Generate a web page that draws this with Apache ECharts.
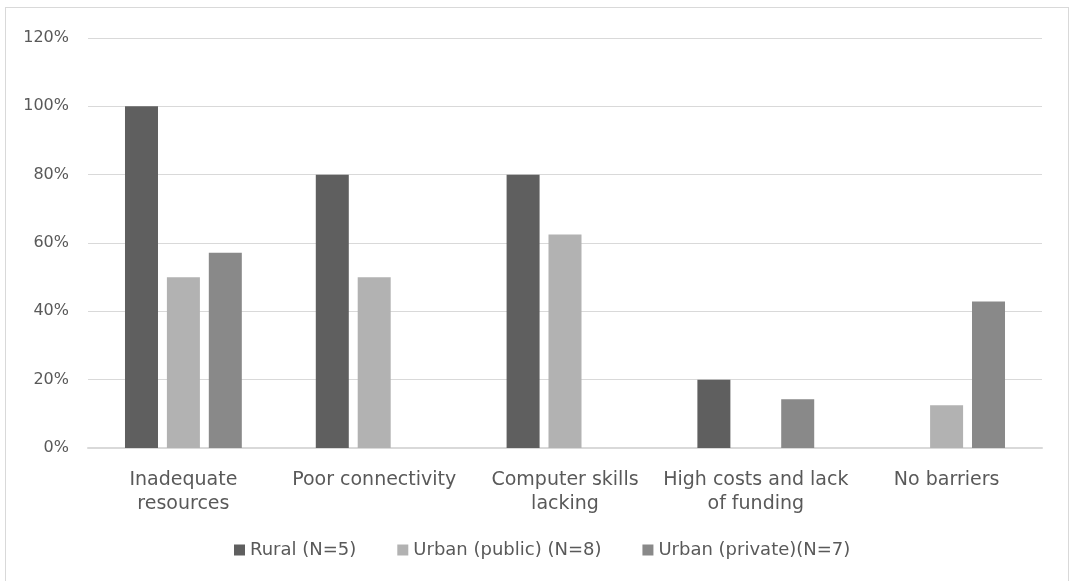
<!DOCTYPE html>
<html>
<head>
<meta charset="utf-8">
<script src="https://cdn.jsdelivr.net/npm/echarts@6/dist/echarts.min.js"></script>
<style>
  body { margin: 0; background: #fff; }
  #frame {
    position: absolute; left: 5px; top: 7px;
    width: 1064px; height: 600px;
    border: 1px solid #d9d9d9; box-sizing: border-box;
  }
  #chart { position: absolute; left: 0; top: 0; width: 1071px; height: 581px; }
</style>
</head>
<body>
<div id="frame"></div>
<div id="chart"></div>
<script>
// categories / series
const categories = ['Inadequate\nresources', 'Poor connectivity', 'Computer skills\nlacking', 'High costs and lack\nof funding', 'No barriers']
const rural = [100, 80, 80, 20, 0]
const urbanPublic = [50, 50, 62.5, 0, 12.5]
const urbanPrivate = [57.14, 0, 0, 14.29, 42.86]
const seriesNames = ['Rural (N=5)', 'Urban (public) (N=8)', 'Urban (private)(N=7)']
const colors = ['#5f5f5f', '#b2b2b2', '#898989']

const font = 'DejaVu Sans'
const chart = echarts.init(document.getElementById('chart'))

function bar(name, data, color) {
  return {
    name,
    type: 'bar',
    data,
    barWidth: 33,
    barGap: '27%',
    itemStyle: { color },
    animation: false
  }
}

chart.setOption({
  animation: false,
  textStyle: { fontFamily: font },
  grid: { left: 88, right: 29, top: 38, bottom: 133 },
  legend: {
    bottom: 22,
    left: 234,
    icon: 'rect',
    itemWidth: 11,
    itemHeight: 11,
    itemGap: 41,
    padding: 0,
    textStyle: { color: '#595959', fontSize: 18, fontFamily: font },
    data: seriesNames
  },
  xAxis: {
    type: 'category',
    data: categories,
    axisLine: { lineStyle: { color: '#d9d9d9', width: 2 } },
    axisTick: { show: false },
    axisLabel: { color: '#595959', fontSize: 19, fontFamily: font, lineHeight: 24, margin: 20, interval: 0 }
  },
  yAxis: {
    type: 'value',
    min: 0,
    max: 120,
    interval: 20,
    axisLine: { show: false },
    axisTick: { show: false },
    splitLine: { lineStyle: { color: '#d9d9d9', width: 1 } },
    axisLabel: { color: '#595959', fontSize: 16, fontFamily: font, margin: 19, formatter: '{value}%' }
  },
  series: [
    bar(seriesNames[0], rural, colors[0]),
    bar(seriesNames[1], urbanPublic, colors[1]),
    bar(seriesNames[2], urbanPrivate, colors[2])
  ]
})
</script>
</body>
</html>
